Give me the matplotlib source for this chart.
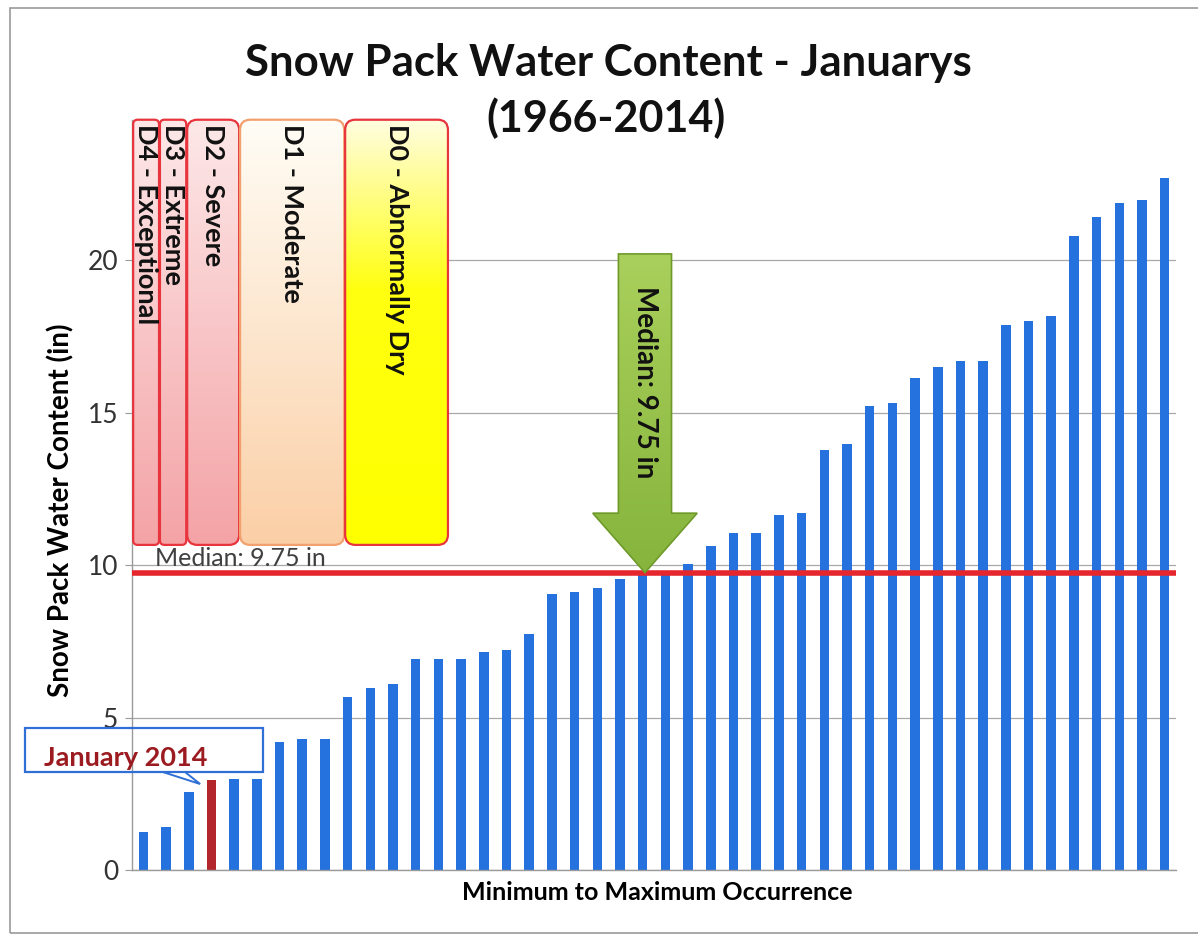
import numpy as np
import matplotlib
matplotlib.use('Agg')
import matplotlib.pyplot as plt
from matplotlib.patches import FancyBboxPatch, Polygon, Rectangle
from matplotlib.colors import LinearSegmentedColormap

plt.rcParams['font.family'] = ['Lato', 'DejaVu Sans']

# January snow pack water content, sorted from min to max (in)
swe = [1.26, 1.41, 2.57, 2.96, 2.98, 2.98, 4.19, 4.28, 4.28, 5.66,
       5.96, 6.09, 6.92, 6.92, 6.92, 7.14, 7.22, 7.73, 9.04, 9.12,
       9.25, 9.55, 9.75, 9.75, 10.04, 10.63, 11.04, 11.04, 11.64, 11.71,
       13.77, 13.97, 15.23, 15.30, 16.12, 16.50, 16.70, 16.70, 17.87, 18.00,
       18.17, 20.80, 21.40, 21.86, 21.97, 22.70]
jan2014_idx = 3
median = 9.75
yticks = [0, 5, 10, 15, 20]

drought_labels = ['D4 - Exceptional', 'D3 - Extreme', 'D2 - Severe',
                  'D1 - Moderate', 'D0 - Abnormally Dry']
# box extents in bar-index units
drought_x = [(-0.45, 0.69), (0.73, 1.89), (1.93, 4.22), (4.26, 8.85), (8.89, 13.42)]
drought_y = (10.66, 24.6)

x = np.arange(len(swe))
colors = ['#2571de'] * len(swe)
colors[jan2014_idx] = '#b3262b'

fig = plt.figure(figsize=(11.98, 9.35), dpi=100)
ax = fig.add_axes([0.1102, 0.0695, 0.8715, 0.8155])

ax.bar(x, swe, width=0.42, color=colors, zorder=2)
ax.axhline(median, color='#e5262d', lw=4, zorder=3)
ax.text(0.52, median + 0.22, 'Median: %.2f in' % median, fontsize=18,
        color='#404040', va='baseline', ha='left', zorder=2.5)

ax.set_xlim(-0.5, len(swe) - 0.5)
ax.set_ylim(0, 25)
ax.set_yticks(yticks)
ax.set_xticks([])
ax.tick_params(axis='y', labelsize=19, labelcolor='#333333', color='#999999',
               length=5, pad=5)
ax.yaxis.grid(True, color='#a8a8a8', lw=0.9)
ax.set_axisbelow(True)
for s in ['top', 'right']:
    ax.spines[s].set_visible(False)
for s in ['left', 'bottom']:
    ax.spines[s].set_color('#9a9a9a')
    ax.spines[s].set_linewidth(1)
ax.spines['left'].set_bounds(0, 24.6)

ax.set_ylabel('Snow Pack Water Content (in)', fontsize=20, fontweight='bold',
              va='center', ha='center')
ax.yaxis.set_label_coords(-0.068, 0.472)
ax.set_xlabel('Minimum to Maximum Occurrence', fontsize=18, fontweight='bold',
              va='center', ha='center')
ax.xaxis.set_label_coords(0.503, -0.029)


def gradient_fill(patch, stops, extent, z):
    ax.add_patch(patch)
    cmap = LinearSegmentedColormap.from_list('g', stops)
    g = np.linspace(0, 1, 256).reshape(-1, 1)
    im = ax.imshow(g, cmap=cmap, extent=extent, origin='lower', aspect='auto',
                   zorder=z, interpolation='bilinear')
    im.set_clip_path(patch)


# drought category boxes
box_fill = [
    [(0, '#f4a3a6'), (1, '#fde8e8')],
    [(0, '#f4a3a6'), (1, '#fde8e8')],
    [(0, '#f4a3a6'), (1, '#fde8e8')],
    [(0, '#fbcfa6'), (1, '#fffdf6')],
    [(0, '#ffff00'), (0.6, '#ffff10'), (1, '#fffde0')],
]
box_edge = ['#e8343c', '#e8343c', '#e8343c', '#f2a070', '#e8343c']
y0, y1 = drought_y
for lab, (a, b), fill, ec in zip(drought_labels, drought_x, box_fill, box_edge):
    r = 0.2 if b - a < 1.5 else 0.45
    p = FancyBboxPatch((a, y0), b - a, y1 - y0,
                       boxstyle='round,pad=0,rounding_size=%s' % r,
                       mutation_aspect=0.75, facecolor='none', edgecolor=ec,
                       lw=1.6, zorder=6)
    gradient_fill(p, fill, (a, b, y0, y1), 5)
    ax.text((a + b) / 2, y1 - 0.15, lab, rotation=-90, ha='center', va='top',
            fontsize=19.5, fontweight='bold', color='#111111', zorder=7)

# median arrow
ax_c = 22.1
arrow = Polygon([(ax_c - 1.17, 20.2), (ax_c + 1.17, 20.2), (ax_c + 1.17, 11.7),
                 (ax_c + 2.3, 11.7), (ax_c, median), (ax_c - 2.3, 11.7),
                 (ax_c - 1.17, 11.7)],
                closed=True, facecolor='none', edgecolor='#6f9a2a', lw=1.2,
                zorder=6)
gradient_fill(arrow, [(0, '#86b43c'), (1, '#a9d05c')],
              (ax_c - 2.3, ax_c + 2.3, median, 20.2), 5)
ax.text(ax_c, 16.0, 'Median: %.2f in' % median, rotation=-90, ha='center',
        va='center', fontsize=20, fontweight='bold', color='#111111', zorder=7)

# January 2014 callout
cb = Rectangle((-5.2, 3.21), 10.47, 1.45, facecolor='none', edgecolor='#2f6fd6',
               lw=1.6, clip_on=False, zorder=6)
ax.add_patch(cb)
wedge = Polygon([(0.87, 3.21), (1.84, 3.21),
                 (jan2014_idx - 0.5, swe[jan2014_idx] - 0.14)],
                closed=True, facecolor='white', edgecolor='#2f6fd6', lw=1.4,
                zorder=6)
ax.add_patch(wedge)
ax.text(-4.37, 3.41, 'January 2014', fontsize=19.5, fontweight='bold',
        color='#9b1b20', ha='left', va='baseline', zorder=7, clip_on=False)

ax.set_xlim(-0.5, len(swe) - 0.5)
ax.set_ylim(0, 25)

fig.text(0.508, 0.933, 'Snow Pack Water Content - Januarys', fontsize=31.5,
         fontweight='bold', ha='center', va='center', color='#111111')
fig.text(0.506, 0.874, '(1966-2014)', fontsize=31, fontweight='bold',
         ha='center', va='center', color='#111111')

fig.add_artist(Rectangle((0.0083, 0.002), 1.0, 0.9894, transform=fig.transFigure,
                         fill=False, edgecolor='#9a9a9a', lw=1.2))

fig.savefig('out.png', dpi=100)
